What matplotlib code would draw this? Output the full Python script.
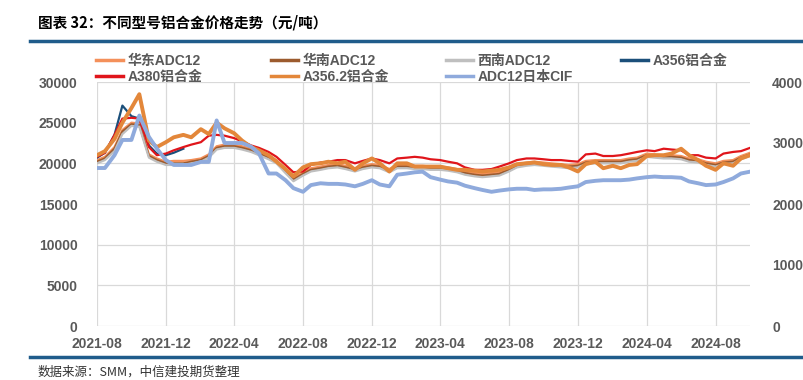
import numpy as np
import pandas as pd
import matplotlib
matplotlib.use('Agg')
import matplotlib.pyplot as plt
import matplotlib.dates as mdates
from matplotlib.lines import Line2D

plt.rcParams['font.family'] = ['Liberation Sans', 'Noto Sans CJK SC', 'DejaVu Sans']

# 半月度数据 2021-08 ~ 2024-10
dates = pd.date_range('2021-08-01', '2024-10-01', freq='SMS')

huadong = [20400, 20800, 22000, 24100, 25000, 24900, 21100, 20600, 20200, 20300,
           20300, 20400, 20600, 21100, 22100, 22300, 22300, 22100, 21800, 21400,
           20900, 20400, 19200, 18200, 18900, 19400, 19600, 19800, 19900, 19700,
           19400, 19700, 19900, 19800, 19300, 19800, 19800, 19700, 19700, 19600,
           19600, 19500, 19300, 19000, 18800, 18700, 18800, 18900, 19400, 19900,
           20100, 20200, 20100, 20000, 19900, 19800, 19900, 20300, 20400, 20400,
           20400, 20400, 20600, 20700, 21200, 21100, 21000, 21000, 20900, 20600,
           20500, 20200, 20000, 20300, 20400, 20900, 21300]
huanan = [20200, 20600, 21800, 23900, 24800, 24700, 20900, 20400, 20000, 20000,
          20000, 20200, 20400, 20900, 21900, 22100, 22100, 21900, 21600, 21200,
          20700, 20200, 19000, 18000, 18700, 19200, 19400, 19600, 19700, 19500,
          19200, 19500, 19700, 19600, 19100, 19600, 19600, 19500, 19500, 19400,
          19400, 19300, 19100, 18800, 18600, 18500, 18600, 18700, 19200, 19700,
          19900, 20000, 19900, 19800, 19700, 19600, 19700, 20100, 20200, 20200,
          20200, 20200, 20400, 20500, 21000, 20900, 20800, 20800, 20700, 20400,
          20300, 20000, 19800, 20100, 20200, 20700, 21100]
xinan = [20000, 20400, 21500, 23600, 24600, 24500, 20700, 20200, 19800, 19800,
         19800, 20000, 20200, 20700, 21700, 21900, 21900, 21700, 21400, 21000,
         20500, 20000, 18800, 17800, 18500, 19000, 19200, 19400, 19500, 19300,
         19000, 19300, 19500, 19400, 18900, 19400, 19400, 19300, 19300, 19200,
         19200, 19100, 18900, 18600, 18400, 18300, 18400, 18500, 19000, 19500,
         19700, 19800, 19700, 19600, 19500, 19400, 19500, 19900, 20000, 20000,
         20000, 20000, 20200, 20300, 20800, 20700, 20600, 20600, 20500, 20200,
         20100, 19800, 19600, 19900, 20000, 20500, 20900]
a356 = [20700, 21300, 23500, 27100, 25800, 25500, 22200, 21200, 21000, 21300, 21800]
a380 = [20800, 21300, 23500, 25500, 25600, 25500, 22000, 21000, 21200, 21600,
        22000, 22300, 22600, 23400, 23500, 23400, 23100, 22700, 22200, 21900,
        21400, 20800, 19800, 18900, 19000, 19800, 20100, 20200, 20400, 20400,
        20000, 20300, 20600, 20400, 20000, 20600, 20700, 20800, 20700, 20500,
        20400, 20200, 20000, 19500, 19200, 19200, 19300, 19600, 20000, 20400,
        20600, 20600, 20500, 20400, 20400, 20300, 20200, 21100, 21200, 20900,
        20900, 21000, 21200, 21400, 21600, 21500, 21800, 21700, 21600, 21000,
        21000, 20700, 20600, 21200, 21400, 21500, 21900]
a3562 = [21000, 21500, 23000, 25000, 26800, 28500, 22800, 22000, 22600, 23200,
         23500, 23200, 24200, 23600, 25000, 24300, 23700, 22800, 22000, 21600,
         21000, 20200, 19300, 18400, 19500, 19900, 20000, 20200, 20000, 20200,
         19200, 20000, 20600, 20000, 19000, 20000, 20000, 19600, 19600, 19600,
         19600, 19400, 19200, 19200, 19100, 19000, 19100, 19200, 19500, 19900,
         20000, 20100, 19900, 19800, 19800, 19500, 19000, 19900, 20200, 19400,
         19700, 19400, 19800, 19900, 20900, 21000, 21000, 21200, 21800, 21000,
         20400, 19700, 19200, 20000, 19700, 20600, 21000]
# 右轴 美元/吨
cif_japan = [2590, 2590, 2800, 3050, 3050, 3450, 3100, 2910, 2720, 2640,
             2640, 2640, 2690, 2690, 3370, 3000, 3000, 3000, 2940, 2830,
             2500, 2500, 2390, 2260, 2200, 2310, 2340, 2330, 2330, 2320,
             2290, 2330, 2390, 2320, 2290, 2480, 2500, 2520, 2530, 2440,
             2400, 2370, 2350, 2300, 2260, 2230, 2200, 2220, 2240, 2250,
             2250, 2230, 2240, 2240, 2250, 2270, 2290, 2360, 2380, 2390,
             2390, 2390, 2400, 2420, 2440, 2450, 2440, 2440, 2430, 2370,
             2340, 2310, 2320, 2360, 2420, 2500, 2530]

tick_dates = pd.date_range('2021-08-01', '2024-08-01', freq='4MS')

grid_c = '#D9D9D9'
txt_c = '#595959'

fig = plt.figure(figsize=(8.04, 3.8), dpi=100)
ax = fig.add_axes([97/804, 1-326/380, 653/804, 244/380])
ax2 = ax.twinx()

l_hd, = ax.plot(dates, huadong, color='#F4905A', lw=1.6, label='华东ADC12')
l_hn, = ax.plot(dates, huanan, color='#9C5B2E', lw=1.6, label='华南ADC12')
l_xn, = ax.plot(dates, xinan, color='#BFBFBF', lw=1.6, label='西南ADC12')
l_356, = ax.plot(dates[:len(a356)], a356, color='#1B4F7A', lw=1.6, label='A356铝合金')
l_380, = ax.plot(dates, a380, color='#E0151B', lw=1.6, label='A380铝合金')
l_3562, = ax.plot(dates, a3562, color='#E3873A', lw=2.8, label='A356.2铝合金')
l_cif, = ax2.plot(dates, cif_japan, color='#8FAADC', lw=2.8, label='ADC12日本CIF')

ax.set_ylim(0, 30000)
ax.set_yticks(range(0, 30001, 5000))
ax2.set_ylim(0, 4000)
ax2.set_yticks(range(0, 4001, 1000))
ax.set_xlim(dates[0], dates[-1])
ax.set_xticks(tick_dates)
ax.xaxis.set_major_formatter(mdates.DateFormatter('%Y-%m'))

ax.grid(True, color=grid_c, lw=0.9)
ax.set_axisbelow(True)
for a in (ax, ax2):
    for s in a.spines.values():
        s.set_visible(False)
    a.tick_params(length=0, labelsize=10, labelcolor=txt_c)
    for lab in a.get_xticklabels() + a.get_yticklabels():
        lab.set_fontweight('bold')
ax.tick_params(axis='y', pad=14)
ax.tick_params(axis='x', pad=8)
ax2.tick_params(axis='y', pad=16)

# 图例：按列分别放置
cols = [([l_hd, l_380], 90), ([l_hn, l_3562], 265), ([l_xn, l_cif], 440), ([l_356], 615)]
for hs, x0 in cols:
    lg = fig.legend(hs, [h.get_label() for h in hs], loc='upper left', frameon=False,
                    bbox_to_anchor=(x0/804, 1-48/380), prop={'size': 10, 'weight': 'bold'},
                    handlelength=2.0, handletextpad=0.3, labelspacing=0.15, borderaxespad=0)
    for t in lg.get_texts():
        t.set_color(txt_c)
    for ln in lg.get_lines():
        ln.set_linewidth(2.5)

fig.text(38/804, 1-22/380, '图表 32：不同型号铝合金价格走势（元/吨）', fontsize=10.5,
         fontweight='bold', va='center', ha='left', family=['Noto Sans CJK SC', 'DejaVu Sans'])
fig.add_artist(Line2D([30/804, 1], [1-41/380, 1-41/380], color='#1F5C8B', lw=2.5))
fig.add_artist(Line2D([30/804, 1], [1-357/380, 1-357/380], color='#1F5C8B', lw=2.5))
fig.text(38/804, 1-372/380, '数据来源：SMM，中信建投期货整理', fontsize=9, style='italic',
         va='center', ha='left', color='#333333', family=['Noto Sans CJK SC', 'DejaVu Sans'])

fig.savefig('out.png', dpi=100)
